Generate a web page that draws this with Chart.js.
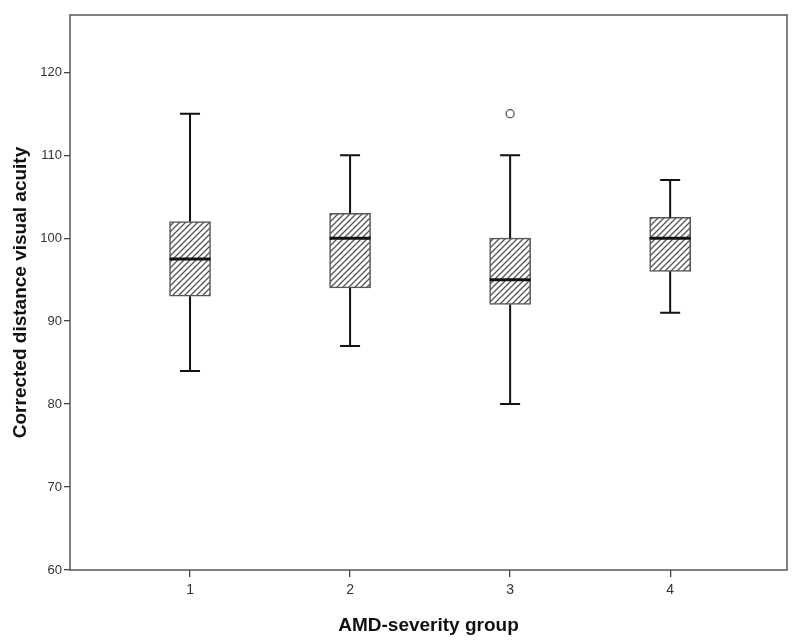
<!DOCTYPE html>
<html>
<head>
<meta charset="utf-8">
<script src="https://cdn.jsdelivr.net/npm/chart.js@4.4.1/dist/chart.umd.min.js"></script>
<style>
  body { margin: 0; background: #fff; }
</style>
</head>
<body>
<canvas id="chart" width="800" height="643"></canvas>
<script>
// Dados (grupos de severidade AMD)
const groups = [1, 2, 3, 4];
const whiskerLow = [84, 87, 80, 91];
const q1 = [93, 94, 92, 96];
const medians = [97.5, 100, 95, 100];
const q3 = [102, 103, 100, 102.5];
const whiskerHigh = [115, 110, 110, 107];
const outlierGroups = [3];
const outlierValues = [115];
const yTicks = [60, 70, 80, 90, 100, 110, 120];

// Padrão hachurado para as caixas
function makeHatch() {
    const c = document.createElement('canvas');
    c.width = 6; c.height = 6;
    const g = c.getContext('2d');
    g.fillStyle = '#ffffff';
    g.fillRect(0, 0, 6, 6);
    g.strokeStyle = '#555555';
    g.lineWidth = 1.3;
    g.beginPath();
    g.moveTo(-1, 7); g.lineTo(7, -1);
    g.moveTo(-4, 4); g.lineTo(4, -4);
    g.moveTo(2, 10); g.lineTo(10, 2);
    g.stroke();
    return g.createPattern(c, 'repeat');
}

const ctx = document.getElementById('chart').getContext('2d');
const hatch = makeHatch();

// Desenha bigodes, medianas e moldura usando as escalas
const boxPlugin = {
    id: 'boxPlugin',
    afterDatasetsDraw(chart) {
        const x = chart.scales.x;
        const y = chart.scales.y;
        const meta = chart.getDatasetMeta(0);
        const c = chart.ctx;
        c.save();
        c.strokeStyle = '#111';
        groups.forEach((grp, i) => {
            const px = x.getPixelForValue(grp);
            const half = meta.data[i].width / 2;
            const cap = 10;
            c.lineWidth = 2;
            c.beginPath();
            c.moveTo(px, y.getPixelForValue(q3[i]));
            c.lineTo(px, y.getPixelForValue(whiskerHigh[i]));
            c.moveTo(px, y.getPixelForValue(q1[i]));
            c.lineTo(px, y.getPixelForValue(whiskerLow[i]));
            c.moveTo(px - cap, y.getPixelForValue(whiskerHigh[i]));
            c.lineTo(px + cap, y.getPixelForValue(whiskerHigh[i]));
            c.moveTo(px - cap, y.getPixelForValue(whiskerLow[i]));
            c.lineTo(px + cap, y.getPixelForValue(whiskerLow[i]));
            c.stroke();
            c.lineWidth = 3;
            c.beginPath();
            c.moveTo(px - half, y.getPixelForValue(medians[i]));
            c.lineTo(px + half, y.getPixelForValue(medians[i]));
            c.stroke();
        });
        const a = chart.chartArea;
        c.strokeStyle = '#555';
        c.lineWidth = 1.5;
        c.strokeRect(a.left, a.top, a.right - a.left, a.bottom - a.top);
        c.restore();
    }
};

new Chart(ctx, {
    type: 'bar',
    data: {
        datasets: [
            {
                data: groups.map((g, i) => ({ x: g, y: [q1[i], q3[i]] })),
                backgroundColor: hatch,
                borderColor: '#555',
                borderWidth: 1.5,
                borderSkipped: false,
                barThickness: 41,
            },
            {
                type: 'scatter',
                data: outlierGroups.map((g, i) => ({ x: g, y: outlierValues[i] })),
                pointStyle: 'circle',
                pointRadius: 4,
                pointBorderWidth: 1.3,
                pointBorderColor: '#555',
                pointBackgroundColor: '#fff',
            },
        ],
    },
    options: {
        responsive: false,
        animation: false,
        layout: { padding: { left: 0, right: 13, top: 15, bottom: 0 } },
        plugins: {
            legend: { display: false },
            tooltip: { enabled: false },
        },
        scales: {
            x: {
                type: 'linear',
                offset: false,
                min: 0.25,
                max: 4.73,
                afterBuildTicks: (s) => { s.ticks = groups.map(v => ({ value: v })); },
                afterFit: (s) => { s.height = 73; },
                border: { display: false },
                grid: { offset: false, drawOnChartArea: false, tickLength: 7, color: '#444', lineWidth: 1.3 },
                ticks: {
                    color: '#333',
                    padding: 5,
                    font: { family: 'Liberation Sans', size: 14 },
                },
                title: {
                    display: true,
                    text: 'AMD-severity group',
                    color: '#111',
                    padding: { top: 4, bottom: 6 },
                    font: { family: 'Liberation Sans', size: 19, weight: 'bold' },
                },
            },
            y: {
                min: 60,
                max: 126.9,
                afterBuildTicks: (s) => { s.ticks = yTicks.map(v => ({ value: v })); },
                afterFit: (s) => { s.width = 70; },
                border: { display: false },
                grid: { drawOnChartArea: false, tickLength: 6, color: '#444', lineWidth: 1.3 },
                ticks: {
                    color: '#333',
                    padding: 2,
                    font: { family: 'Liberation Sans', size: 13 },
                },
                title: {
                    display: true,
                    text: 'Corrected distance visual acuity',
                    color: '#111',
                    padding: { top: 9 },
                    font: { family: 'Liberation Sans', size: 19, weight: 'bold' },
                },
            },
        },
    },
    plugins: [boxPlugin],
});
</script>
</body>
</html>
